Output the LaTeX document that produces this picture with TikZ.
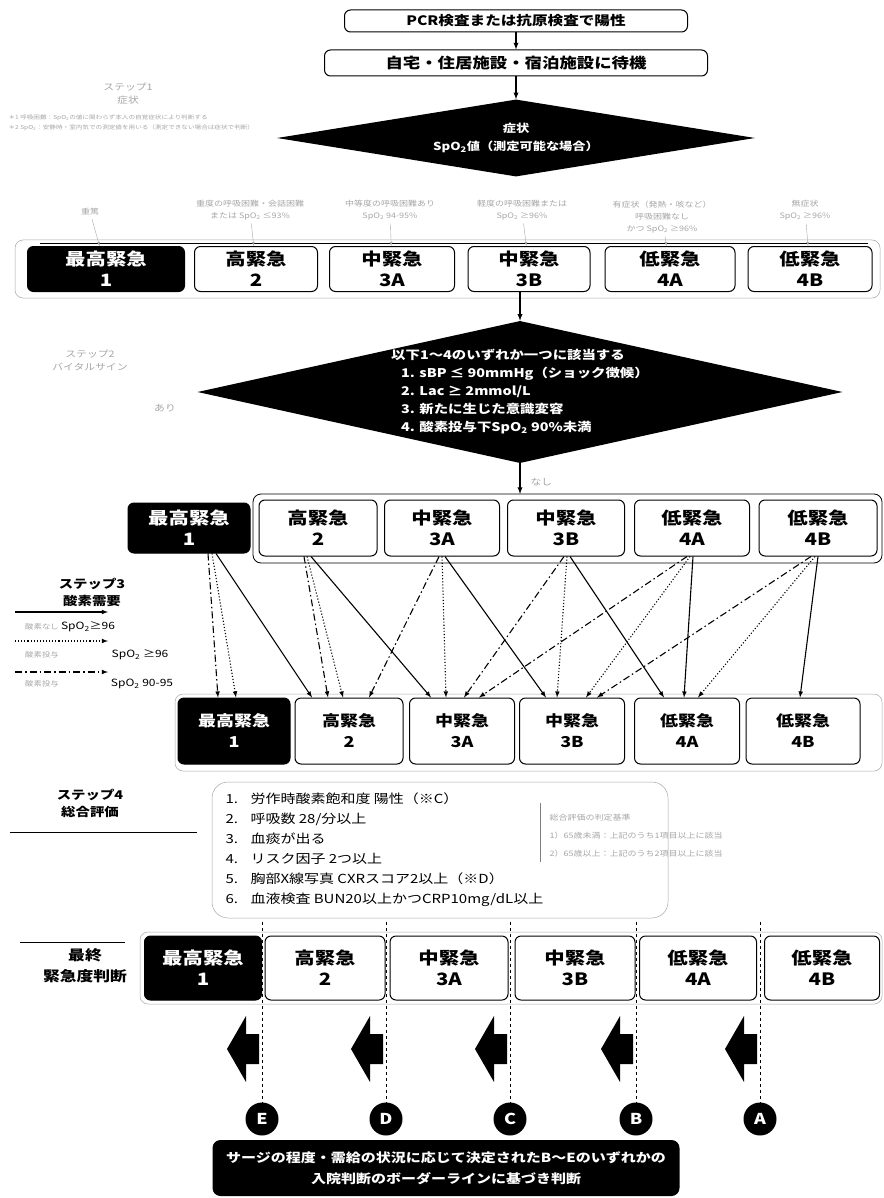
\documentclass[tikz,border=0pt]{standalone}
\usepackage{fontspec}
\setmainfont{Noto Sans CJK JP}[FakeStretch=1.2]
\usepackage{tikz}
\usetikzlibrary{shapes,arrows,calc,positioning}

\tikzset{
  box/.style={draw, rounded corners=6pt, line width=1pt, inner sep=0pt, align=center, font=\bfseries\fontsize{17}{21}\selectfont},
  urgent/.style={box, fill=black, text=white},
  rowframe/.style={draw=gray!70, rounded corners=8pt, line width=.5pt},
  cond/.style={text=gray!70, font=\fontsize{7.5}{12}\selectfont, align=center},
  faint/.style={text=gray!70, font=\fontsize{9}{13}\selectfont, align=center},
  steplbl/.style={font=\bfseries\fontsize{12}{17}\selectfont, align=center},
  diam/.style={diamond, fill=black, text=white, inner sep=0pt, font=\bfseries\fontsize{12}{18}\selectfont},
  flow/.style={->, >=latex, line width=1.3pt},
  tick/.style={->, >=latex, line width=.4pt, draw=gray!70},
  nooxy/.style={->, >=latex, line width=1.1pt},
  oxydot/.style={->, >=latex, line width=1.1pt, dotted},
  oxydd/.style={->, >=latex, line width=1.1pt, dash pattern=on 7pt off 3pt on 1.5pt off 3pt},
  border/.style={line width=.8pt, dashed},
  letter/.style={circle, fill=black, text=white, minimum size=33pt, inner sep=0pt, font=\bfseries\fontsize{15}{15}\selectfont},
}

\begin{document}
\begin{tikzpicture}[x=1pt,y=-1pt]
\useasboundingbox (0,0) rectangle (883,1198);

% step 1
\node[box, minimum width=343, minimum height=22, font=\bfseries\fontsize{13}{15}\selectfont] (pcr) at (516,21) {PCR検査または抗原検査で陽性};
\node[box, minimum width=383, minimum height=26, font=\bfseries\fontsize{14.5}{16}\selectfont] (wait) at (516,63) {自宅・住居施設・宿泊施設に待機};
\node[diam, aspect=6.2, minimum width=478, minimum height=77, align=center, font=\bfseries\fontsize{11}{18}\selectfont] (sympt) at (516,138) {症状\\SpO\textsubscript{2}値（測定可能な場合）};
\draw[flow] (pcr) -- (wait);
\draw[flow] (wait) -- (sympt);
\node[faint] (s1) at (128,94) {ステップ1\\症状};
\node[text=gray!70, font=\fontsize{5.5}{10}\selectfont, align=left, anchor=west] (note1) at (5,123) {＊1 呼吸困難：SpO\textsubscript{2}の値に関わらず本人の自覚症状により判断する\\＊2 SpO\textsubscript{2}：安静時・室内気での測定値を用いる（測定できない場合は症状で判断）};

% conditions
\node[cond] (k1) at (90,212) {重篤};
\node[cond] (k2) at (250,210) {重度の呼吸困難・会話困難\\または SpO\textsubscript{2} ≤93\%};
\node[cond] (k3) at (390,210) {中等度の呼吸困難あり\\SpO\textsubscript{2} 94-95\%};
\node[cond] (k4) at (522,210) {軽度の呼吸困難または\\SpO\textsubscript{2} ≥96\%};
\node[cond] (k5) at (662,217) {有症状（発熱・咳など）\\呼吸困難なし\\かつ SpO\textsubscript{2} ≥96\%};
\node[cond] (k6) at (805,210) {無症状\\SpO\textsubscript{2} ≥96\%};

% row 1
\draw[rowframe] (15,240) rectangle (880,298);
\draw[line width=.6pt] (40,243) -- (868,243);
\node[urgent, minimum width=157, minimum height=45] (a1) at (106,269) {最高緊急\\1};
\node[box, minimum width=123, minimum height=45] (a2) at (256,269) {高緊急\\2};
\node[box, minimum width=125, minimum height=45] (a3) at (392,269) {中緊急\\3A};
\node[box, minimum width=122, minimum height=45] (a4) at (529,269) {中緊急\\3B};
\node[box, minimum width=130, minimum height=45] (a5) at (670,269) {低緊急\\4A};
\node[box, minimum width=124, minimum height=45] (a6) at (810,269) {低緊急\\4B};
\draw[tick] (k1) -- (a1);
\draw[tick] (k2) -- (a2);
\draw[tick] (k3) -- (a3);
\draw[tick] (k4) -- (a4);
\draw[tick] (k5) -- (a5);
\draw[tick] (k6) -- (a6);

% step 2
\node[faint] (s2) at (90,360) {ステップ2\\バイタルサイン};
\node[diam, aspect=4.5, minimum width=645, minimum height=142, align=left] (vital) at (520,392) {以下1～4のいずれか一つに該当する\\
\hspace*{10pt}1. sBP ≤ 90mmHg（ショック徴候）\\
\hspace*{10pt}2. Lac ≥ 2mmol/L\\
\hspace*{10pt}3. 新たに生じた意識変容\\
\hspace*{10pt}4. 酸素投与下SpO\textsubscript{2} 90\%未満};
\draw[flow] ($(a4.south)+(-9,0)$) -- (vital.north);
\node[faint] (yes) at (165,408) {あり};

% row 2
\draw[line width=.8pt, rounded corners=8pt] (253,494) rectangle (882,563);
\node[urgent, minimum width=122, minimum height=50] (b1) at (189,528) {最高緊急\\1};
\node[box, minimum width=118, minimum height=56] (b2) at (318,528) {高緊急\\2};
\node[box, minimum width=115, minimum height=56] (b3) at (442,528) {中緊急\\3A};
\node[box, minimum width=117, minimum height=56] (b4) at (566,528) {中緊急\\3B};
\node[box, minimum width=115, minimum height=56] (b5) at (692,528) {低緊急\\4A};
\node[box, minimum width=118, minimum height=56] (b6) at (818,528) {低緊急\\4B};
\coordinate (land) at (520,494);
\draw[flow] (vital.south) -- (land);
\node[faint, anchor=west] (no) at (527,482) {なし};

% step 3
\node[steplbl] (s3) at (92,592) {ステップ3\\酸素需要};
\coordinate (lg1) at (15,612);
\coordinate (lg1e) at (108,612);
\coordinate (lg2) at (15,641);
\coordinate (lg2e) at (108,641);
\coordinate (lg3) at (15,672);
\coordinate (lg3e) at (108,672);
\draw[nooxy] (lg1) -- (lg1e);
\draw[oxydot] (lg2) -- (lg2e);
\draw[oxydd] (lg3) -- (lg3e);
\node[text=gray!70, font=\fontsize{7}{9}\selectfont] (lt1) at (42,627) {酸素なし};
\node[font=\fontsize{10}{12}\selectfont] (lv1) at (88,627) {SpO\textsubscript{2}≥96};
\node[text=gray!70, font=\fontsize{7}{9}\selectfont] (lt2) at (42,655) {酸素投与};
\node[font=\fontsize{10}{12}\selectfont] (lv2) at (140,655) {SpO\textsubscript{2} ≥96};
\node[text=gray!70, font=\fontsize{7}{9}\selectfont] (lt3) at (42,684) {酸素投与};
\node[font=\fontsize{10}{12}\selectfont] (lv3) at (142,684) {SpO\textsubscript{2} 90-95};

% row 3
\draw[rowframe] (175,694) rectangle (882,771);
\node[urgent, minimum width=112, minimum height=66, font=\bfseries\fontsize{15}{21}\selectfont] (c1) at (234,731) {最高緊急\\1};
\node[box, minimum width=108, minimum height=66, font=\bfseries\fontsize{15}{21}\selectfont] (c2) at (349,731) {高緊急\\2};
\node[box, minimum width=105, minimum height=66, font=\bfseries\fontsize{15}{21}\selectfont] (c3) at (462,731) {中緊急\\3A};
\node[box, minimum width=105, minimum height=66, font=\bfseries\fontsize{15}{21}\selectfont] (c4) at (572,731) {中緊急\\3B};
\node[box, minimum width=105, minimum height=66, font=\bfseries\fontsize{15}{21}\selectfont] (c5) at (687,731) {低緊急\\4A};
\node[box, minimum width=114, minimum height=66, font=\bfseries\fontsize{15}{21}\selectfont] (c6) at (803,731) {低緊急\\4B};

% oxygen need
\draw[oxydd] ($(b1.south)+(19,0)$) -- ($(c1.north)+(-16,0)$);
\draw[oxydot] ($(b1.south)+(23,0)$) -- ($(c1.north)+(2,0)$);
\draw[nooxy] ($(b1.south)+(27,0)$) -- ($(c2.north)+(-37,0)$);
\draw[oxydd] ($(b2.south)+(-14,0)$) -- ($(c2.north)+(-21,0)$);
\draw[oxydot] ($(b2.south)+(-11,0)$) -- ($(c2.north)+(-6,0)$);
\draw[nooxy] ($(b2.south)+(-7,0)$) -- ($(c3.north)+(-31,0)$);
\draw[oxydd] ($(b3.south)+(-3,0)$) -- ($(c2.north)+(20,0)$);
\draw[oxydot] ($(b3.south)+(0,0)$) -- ($(c3.north)+(-16,0)$);
\draw[nooxy] ($(b3.south)+(3,0)$) -- ($(c4.north)+(-26,0)$);
\draw[oxydd] ($(b4.south)+(-2,0)$) -- ($(c3.north)+(2,0)$);
\draw[oxydot] ($(b4.south)+(1,0)$) -- ($(c4.north)+(-15,0)$);
\draw[nooxy] ($(b4.south)+(4,0)$) -- ($(c5.north)+(-23,0)$);
\draw[oxydd] ($(b5.south)+(-5,0)$) -- ($(c3.north)+(17,0)$);
\draw[oxydot] ($(b5.south)+(-2,0)$) -- ($(c4.north)+(14,0)$);
\draw[nooxy] ($(b5.south)+(1,0)$) -- ($(c5.north)+(-3,0)$);
\draw[oxydd] ($(b6.south)+(-7,0)$) -- ($(c4.north)+(25,0)$);
\draw[oxydot] ($(b6.south)+(-3,0)$) -- ($(c5.north)+(11,0)$);
\draw[nooxy] ($(b6.south)+(0,0)$) -- ($(c6.north)+(-3,0)$);

% step 4
\node[steplbl] (s4) at (90,803) {ステップ4\\総合評価};
\draw[line width=.6pt] (10,832) -- (197,832);
\draw[rowframe, rounded corners=16pt] (212,782) rectangle (668,918);
\node[anchor=north west, align=left, font=\fontsize{12.5}{20}\selectfont] (items) at (222,789) {1.\quad 労作時酸素飽和度\ 陽性（※C）\\
2.\quad 呼吸数\ 28/分以上\\
3.\quad 血痰が出る\\
4.\quad リスク因子\ 2つ以上\\
5.\quad 胸部X線写真\ CXRスコア2以上（※D）\\
6.\quad 血液検査\ BUN20以上かつCRP10mg/dL以上};
\draw[line width=.5pt, gray] (540,803) -- (540,862);
\node[anchor=west, align=left, text=gray!70, font=\fontsize{7.5}{18}\selectfont] (rule) at (546,836) {総合評価の判定基準\\
1）65歳未満：上記のうち1項目以上に該当\\
2）65歳以上：上記のうち2項目以上に該当};

% final
\node[steplbl, font=\bfseries\fontsize{14}{21}\selectfont] (s5) at (85,966) {最終\\緊急度判断};
\draw[line width=.6pt] (20,942) -- (125,942);
\draw[rowframe] (140,932) rectangle (882,1004);
\node[urgent, minimum width=117, minimum height=64] (d1) at (203,968) {最高緊急\\1};
\node[box, minimum width=120, minimum height=64] (d2) at (325,968) {高緊急\\2};
\node[box, minimum width=118, minimum height=64] (d3) at (449,968) {中緊急\\3A};
\node[box, minimum width=120, minimum height=64] (d4) at (575,968) {中緊急\\3B};
\node[box, minimum width=117, minimum height=64] (d5) at (698,968) {低緊急\\4A};
\node[box, minimum width=115, minimum height=64] (d6) at (822,968) {低緊急\\4B};

\node[letter] (bE) at (262,1119) {E};
\node[letter] (bD) at (386,1119) {D};
\node[letter] (bC) at (510,1119) {C};
\node[letter] (bB) at (636,1119) {B};
\node[letter] (bA) at (760,1119) {A};
\coordinate (tE) at (262,922);
\coordinate (tD) at (386,922);
\coordinate (tC) at (510,922);
\coordinate (tB) at (636,922);
\coordinate (tA) at (760,922);
\draw[border] (tE) -- (bE);
\draw[border] (tD) -- (bD);
\draw[border] (tC) -- (bC);
\draw[border] (tB) -- (bB);
\draw[border] (tA) -- (bA);
\fill (259,1034) -- (246,1034) -- (246,1016) -- (227,1049) -- (246,1082) -- (246,1064) -- (259,1064) -- cycle;
\fill (383,1034) -- (370,1034) -- (370,1016) -- (351,1049) -- (370,1082) -- (370,1064) -- (383,1064) -- cycle;
\fill (507,1034) -- (494,1034) -- (494,1016) -- (475,1049) -- (494,1082) -- (494,1064) -- (507,1064) -- cycle;
\fill (633,1034) -- (620,1034) -- (620,1016) -- (601,1049) -- (620,1082) -- (620,1064) -- (633,1064) -- cycle;
\fill (757,1034) -- (744,1034) -- (744,1016) -- (725,1049) -- (744,1082) -- (744,1064) -- (757,1064) -- cycle;

\node[fill=black, text=white, rounded corners=8pt, minimum width=467, minimum height=56, inner sep=0pt, align=center, font=\bfseries\fontsize{12.5}{21}\selectfont] (verdict) at (446,1168) {サージの程度・需給の状況に応じて決定されたB～Eのいずれかの\\入院判断のボーダーラインに基づき判断};
\end{tikzpicture}
\end{document}
